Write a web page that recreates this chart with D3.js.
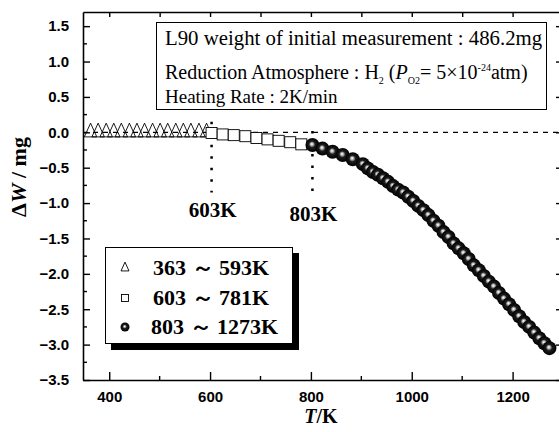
<!DOCTYPE html>
<html>
<head>
<meta charset="utf-8">
<script src="https://cdn.jsdelivr.net/npm/d3@7"></script>
<style>
  body { margin: 0; background: #fff; }
  svg { display: block; }
</style>
</head>
<body>
<div id="chart"></div>
<script>
// 363 ~ 593K (triangles)
const triT = [363, 378, 394, 409, 424, 440, 455, 470, 486, 501, 516, 532, 547, 562, 578, 593];
const triW = [0, 0, 0, 0, 0, 0, 0, 0, 0, 0, 0, 0, 0, 0, 0, 0];

// 603 ~ 781K (squares)
const sqT = [603, 625, 647, 670, 692, 714, 736, 759, 781];
const sqW = [-0.01, -0.03, -0.04, -0.055, -0.08, -0.10, -0.12, -0.14, -0.17];

// 803 ~ 1273K (spheres)
const ballT = [803, 823, 843, 863, 883, 903, 913, 923, 933, 943, 953, 963, 973, 983, 993,
  1003, 1013, 1023, 1033, 1043, 1053, 1063, 1073, 1083, 1093, 1103, 1113, 1123, 1133, 1143,
  1153, 1163, 1173, 1183, 1193, 1203, 1213, 1223, 1233, 1243, 1253, 1263, 1273];
const ballW = [-0.18, -0.23, -0.275, -0.32, -0.38, -0.45, -0.51, -0.56, -0.60, -0.65, -0.70, -0.76, -0.81, -0.85, -0.91,
  -0.97, -1.04, -1.10, -1.17, -1.25, -1.32, -1.41, -1.48, -1.57, -1.64, -1.71, -1.79, -1.88, -1.95, -2.03,
  -2.11, -2.18, -2.27, -2.35, -2.43, -2.51, -2.60, -2.68, -2.75, -2.83, -2.91, -2.98, -3.05];

const xTicks = [400, 600, 800, 1000, 1200];
const xMinor = [500, 700, 900, 1100];
const yTicks = [1.5, 1.0, 0.5, 0.0, -0.5, -1.0, -1.5, -2.0, -2.5, -3.0, -3.5];
const yMinor = [1.25, 0.75, 0.25, -0.25, -0.75, -1.25, -1.75, -2.25, -2.75, -3.25];
const markT = [603, 803];
const legendLabels = ["363 \uFF5E 593K", "603 \uFF5E 781K", "803 \uFF5E 1273K"];

const W = 559, H = 432;
const margin = { top: 12, right: -1, bottom: 52, left: 83 };

const svg = d3.select("#chart").append("svg")
  .attr("width", W)
  .attr("height", H);

const x = d3.scaleLinear().domain([348, 1294]).range([margin.left, W - margin.right]);
const y = d3.scaleLinear().domain([-3.5, 1.7]).range([H - margin.bottom, margin.top]);

const defs = svg.append("defs");
const grad = defs.append("radialGradient").attr("id", "ball")
  .attr("cx", "50%").attr("cy", "50%").attr("r", "50%")
  .attr("fx", "45%").attr("fy", "42%");
grad.append("stop").attr("offset", "0%").attr("stop-color", "#ffffff");
grad.append("stop").attr("offset", "12%").attr("stop-color", "#dcdcdc");
grad.append("stop").attr("offset", "28%").attr("stop-color", "#8a8a8a");
grad.append("stop").attr("offset", "45%").attr("stop-color", "#1c1c1c");
grad.append("stop").attr("offset", "100%").attr("stop-color", "#000000");

const serif = "'Liberation Serif', 'Times New Roman', serif";
const sans = "'Liberation Sans', Arial, sans-serif";

// axes: ticks inward on all four sides
const x0 = x.range()[0], x1 = x.range()[1], y0 = y.range()[0], y1 = y.range()[1];

const bottomAxis = svg.append("g").attr("transform", `translate(0,${y0})`)
  .call(d3.axisBottom(x).tickValues(xTicks).tickFormat(d3.format("d"))
    .tickSizeInner(-8).tickSizeOuter(0).tickPadding(11));
bottomAxis.append("g").selectAll("line").data(xMinor).join("line")
  .attr("x1", d => x(d)).attr("x2", d => x(d)).attr("y1", 0).attr("y2", -4);

const leftAxis = svg.append("g").attr("transform", `translate(${x0},0)`)
  .call(d3.axisLeft(y).tickValues(yTicks).tickFormat(d3.format(".1f"))
    .tickSizeInner(-7).tickSizeOuter(0).tickPadding(14));
leftAxis.append("g").selectAll("line").data(yMinor).join("line")
  .attr("y1", d => y(d)).attr("y2", d => y(d)).attr("x1", 0).attr("x2", 4);

svg.append("g").attr("transform", `translate(0,${y1})`)
  .call(d3.axisTop(x).tickValues(xTicks.concat(xMinor)).tickSizeInner(-5).tickSizeOuter(0).tickFormat(""));

svg.append("g").attr("transform", `translate(${x1},0)`)
  .call(d3.axisRight(y).tickValues(yTicks).tickSizeInner(-4).tickSizeOuter(0).tickFormat(""));

svg.selectAll(".domain").attr("stroke", "#000").attr("stroke-width", 1.6);
svg.selectAll(".tick line, g > line").attr("stroke", "#000").attr("stroke-width", 1.4);
svg.selectAll(".tick text")
  .attr("font-family", sans).attr("font-weight", "bold").attr("font-size", 15).attr("fill", "#000");

// zero reference line
svg.append("line")
  .attr("x1", x0).attr("x2", x1).attr("y1", y(0)).attr("y2", y(0))
  .attr("stroke", "#000").attr("stroke-width", 1.3).attr("stroke-dasharray", "5,5");

// dotted markers at 603K / 803K
const markTop = [0.15, 0.02];
const markBot = [-0.85, -0.95];
svg.append("g").selectAll("line").data(markT).join("line")
  .attr("x1", d => x(d)).attr("x2", d => x(d))
  .attr("y1", (d, i) => y(markTop[i])).attr("y2", (d, i) => y(markBot[i]))
  .attr("stroke", "#000").attr("stroke-width", 2.5).attr("stroke-dasharray", "2.5,9");

svg.append("g").selectAll("text").data(markT).join("text")
  .attr("x", d => x(d) + 1).attr("y", (d, i) => i === 0 ? 217 : 221)
  .attr("text-anchor", "middle")
  .attr("font-family", serif).attr("font-weight", "bold").attr("font-size", 21)
  .text(d => d + "K");

// series
const tri = d3.range(triT.length).map(i => ({ t: triT[i], w: triW[i] }));
const sq = d3.range(sqT.length).map(i => ({ t: sqT[i], w: sqW[i] }));
const balls = d3.range(ballT.length).map(i => ({ t: ballT[i], w: ballW[i] }));

function triPath(s) {
  const h = s * 1.1;
  return `M0,${-h * 2 / 3}L${s / 2},${h / 3}L${-s / 2},${h / 3}Z`;
}

svg.append("g").selectAll("path").data(tri).join("path")
  .attr("transform", d => `translate(${x(d.t)},${y(d.w)})`)
  .attr("d", triPath(12.5))
  .attr("fill", "none").attr("stroke", "#000").attr("stroke-width", 0.9);

svg.append("g").selectAll("rect").data(sq).join("rect")
  .attr("x", d => x(d.t) - 5.5).attr("y", d => y(d.w) - 5.5)
  .attr("width", 11).attr("height", 11)
  .attr("fill", "#fff").attr("stroke", "#000").attr("stroke-width", 0.9);

svg.append("g").selectAll("circle").data(balls).join("circle")
  .attr("cx", d => x(d.t)).attr("cy", d => y(d.w)).attr("r", 7)
  .attr("fill", "url(#ball)");

// info box
const info = svg.append("g");
info.append("rect").attr("x", 156.5).attr("y", 22.5).attr("width", 390).attr("height", 87)
  .attr("fill", "#fff").attr("stroke", "#000").attr("stroke-width", 1);

info.append("text").attr("x", 165).attr("y", 45)
  .attr("font-family", serif).attr("font-size", 20.8)
  .text("L90 weight of initial measurement : 486.2mg");

const l2 = info.append("text").attr("x", 165).attr("y", 79)
  .attr("font-family", serif).attr("font-size", 20);
l2.append("tspan").text("Reduction Atmosphere : H");
l2.append("tspan").attr("font-size", 10).attr("dy", 5).text("2");
l2.append("tspan").attr("dy", -5).text(" (");
l2.append("tspan").attr("font-style", "italic").text("P");
l2.append("tspan").attr("font-size", 10).attr("dy", 5).text("O2");
l2.append("tspan").attr("dy", -5).text("= 5\u00D710");
l2.append("tspan").attr("font-size", 10).attr("dy", -8).text("-24");
l2.append("tspan").attr("dy", 8).text("atm)");

info.append("text").attr("x", 165).attr("y", 103)
  .attr("font-family", serif).attr("font-size", 19)
  .text("Heating Rate : 2K/min");

// legend with drop shadow
const lg = svg.append("g");
lg.append("rect").attr("x", 111).attr("y", 253).attr("width", 188).attr("height", 97).attr("fill", "#000");
lg.append("rect").attr("x", 105.5).attr("y", 247.5).attr("width", 187).attr("height", 96)
  .attr("fill", "#fff").attr("stroke", "#000").attr("stroke-width", 1);

const rowY = [268, 298, 327];
lg.append("path").attr("transform", `translate(125,${rowY[0]})`).attr("d", triPath(8))
  .attr("fill", "none").attr("stroke", "#000").attr("stroke-width", 0.9);
lg.append("rect").attr("x", 121.5).attr("y", rowY[1] - 3.5).attr("width", 7).attr("height", 7)
  .attr("fill", "#fff").attr("stroke", "#000").attr("stroke-width", 0.9);
lg.append("circle").attr("cx", 125).attr("cy", rowY[2]).attr("r", 4.5).attr("fill", "url(#ball)");

lg.selectAll("text.lab").data(legendLabels).join("text")
  .attr("class", "lab")
  .attr("x", (d, i) => i === 2 ? 151 : 153).attr("y", (d, i) => rowY[i] + 7)
  .attr("font-family", serif).attr("font-weight", "bold").attr("font-size", 22)
  .text(d => d);

// axis titles
const xt = svg.append("text").attr("x", 321).attr("y", 423)
  .attr("text-anchor", "middle")
  .attr("font-family", serif).attr("font-weight", "bold").attr("font-size", 20);
xt.append("tspan").attr("font-style", "italic").text("T");
xt.append("tspan").text("/K");

const yt = svg.append("text")
  .attr("transform", "translate(26,177) rotate(-90)")
  .attr("text-anchor", "middle")
  .attr("font-family", serif).attr("font-weight", "bold").attr("font-size", 22);
yt.append("tspan").text("\u0394");
yt.append("tspan").attr("font-style", "italic").text("W");
yt.append("tspan").text(" / mg");
</script>
</body>
</html>
